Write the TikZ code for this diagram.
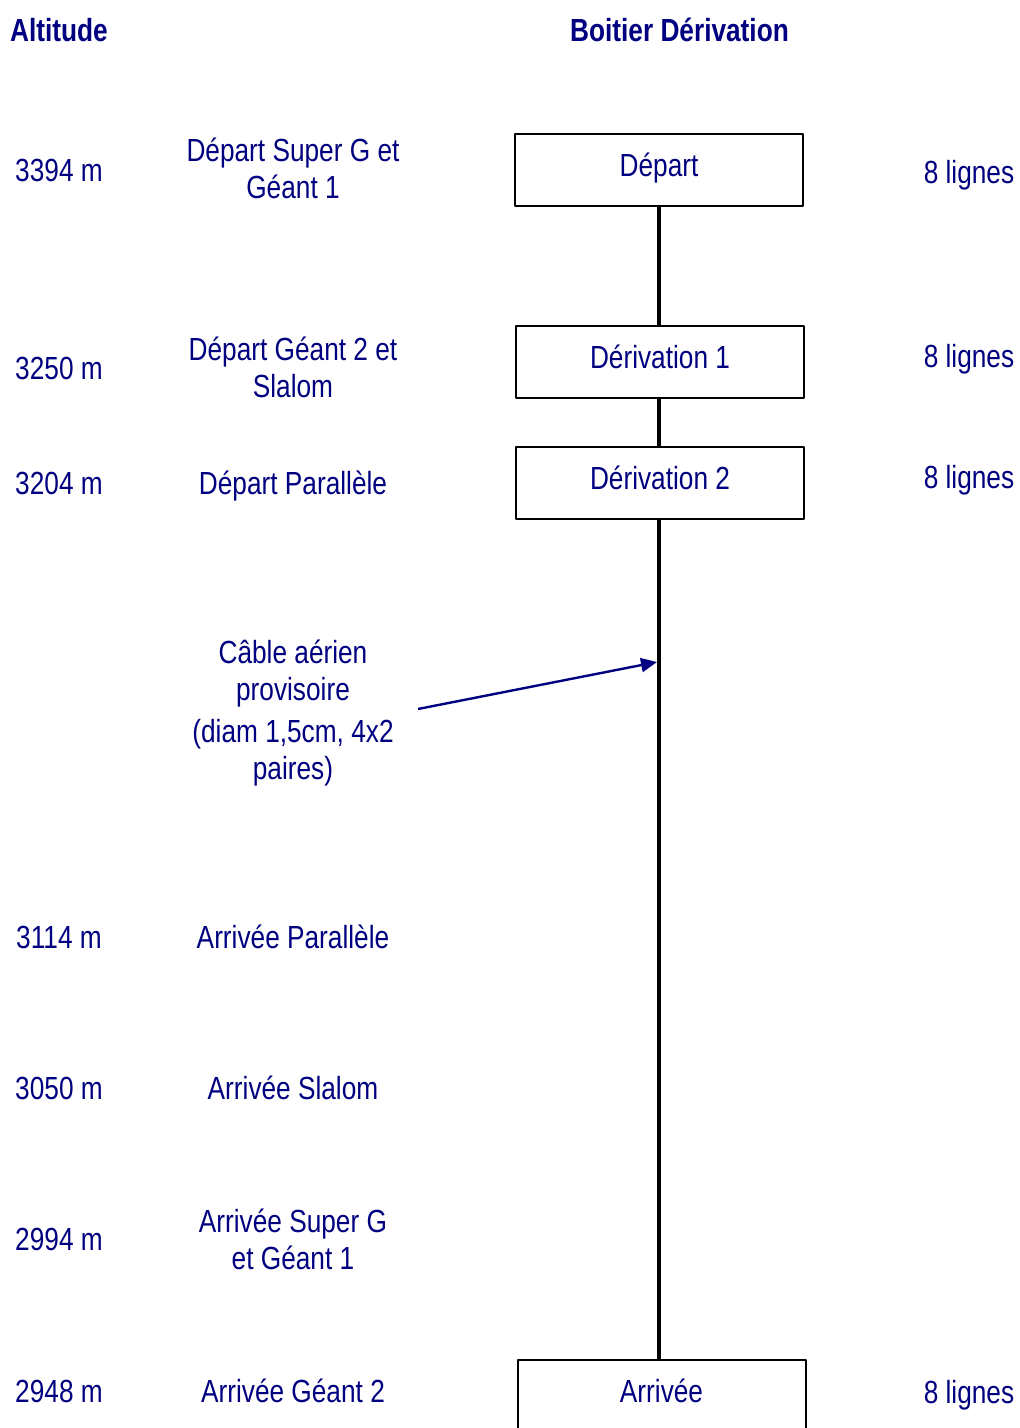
\documentclass[tikz,border=0pt]{standalone}
\usepackage{fontspec}
\setmainfont[FakeStretch=0.82]{Liberation Sans}
\usetikzlibrary{arrows.meta}
\definecolor{navytext}{RGB}{0,0,128}
\tikzset{
  etiq/.style={text height=11.5pt,text depth=0pt},
  boitier/.style={draw=black,line width=1pt,minimum width=144pt,minimum height=36pt,inner sep=0pt,text height=11.5pt,text depth=5pt},
  liaison/.style={draw=black,line width=2pt},
}
\begin{document}
\begin{tikzpicture}[x=0.5pt,y=-0.5pt,font=\fontsize{16pt}{18.5pt}\selectfont,text=navytext,line join=round,>={Triangle[length=8pt,width=7pt]}]
	\path[fill=white,use as bounding box] (0,0) rectangle (1019,1428);
	% titres
	\node[etiq,font=\fontsize{16pt}{18.5pt}\selectfont\bfseries] (altitude) at (59,30) {Altitude};
	\node[etiq,font=\fontsize{16pt}{18.5pt}\selectfont\bfseries] (boitiers) at (679.5,30) {Boitier Dérivation};
	% altitudes
	\node[etiq] (alt3394) at (59,170) {3394 m};
	\node[etiq] (alt3250) at (59,368) {3250 m};
	\node[etiq] (alt3204) at (59,483) {3204 m};
	\node[etiq] (alt3114) at (59,937) {3114 m};
	\node[etiq] (alt3050) at (59,1088) {3050 m};
	\node[etiq] (alt2994) at (59,1239) {2994 m};
	\node[etiq] (alt2948) at (59,1391) {2948 m};
	% epreuves
	\node[align=center] (departsg) at (293,168) {Départ Super G et\\Géant 1};
	\node[align=center] (departgs) at (293,367) {Départ Géant 2 et\\Slalom};
	\node[etiq] (departpar) at (293,483) {Départ Parallèle};
	\node[align=center] (cableaer) at (293,713) {Câble aérien\\provisoire\\[2.5pt](diam 1,5cm, 4x2\\paires)};
	\node[etiq] (arrpar) at (293,937) {Arrivée Parallèle};
	\node[etiq] (arrsl) at (293,1088) {Arrivée Slalom};
	\node[align=center] (arrsg) at (293,1239) {Arrivée Super G\\et Géant 1};
	\node[etiq] (arrg2) at (293,1391) {Arrivée Géant 2};
	% boitiers
	\node[boitier] (depart) at (659,170) {Départ};
	\node[boitier] (deriv1) at (660,362) {Dérivation 1};
	\node[boitier] (deriv2) at (660,482.5) {Dérivation 2};
	\node[boitier] (arrivee) at (661.5,1396) {Arrivée};
	\draw[liaison] (depart.south) -- (depart.south|-deriv1.north);
	\draw[liaison] (deriv1.south-|depart.south) -- (deriv2.north-|depart.south);
	\draw[liaison] (deriv2.south-|depart.south) -- (arrivee.north-|depart.south);
	% lignes
	\node[etiq] (lig1) at (969,172) {8 lignes};
	\node[etiq] (lig2) at (969,356) {8 lignes};
	\node[etiq] (lig3) at (969,477) {8 lignes};
	\node[etiq] (lig4) at (969,1392) {8 lignes};
	% cable
	\coordinate (cabdeb) at (418,709);
	\coordinate (cabfin) at (657,662);
	\draw[->,navytext,line width=1.2pt] (cabdeb) -- (cabfin);
\end{tikzpicture}
\end{document}
